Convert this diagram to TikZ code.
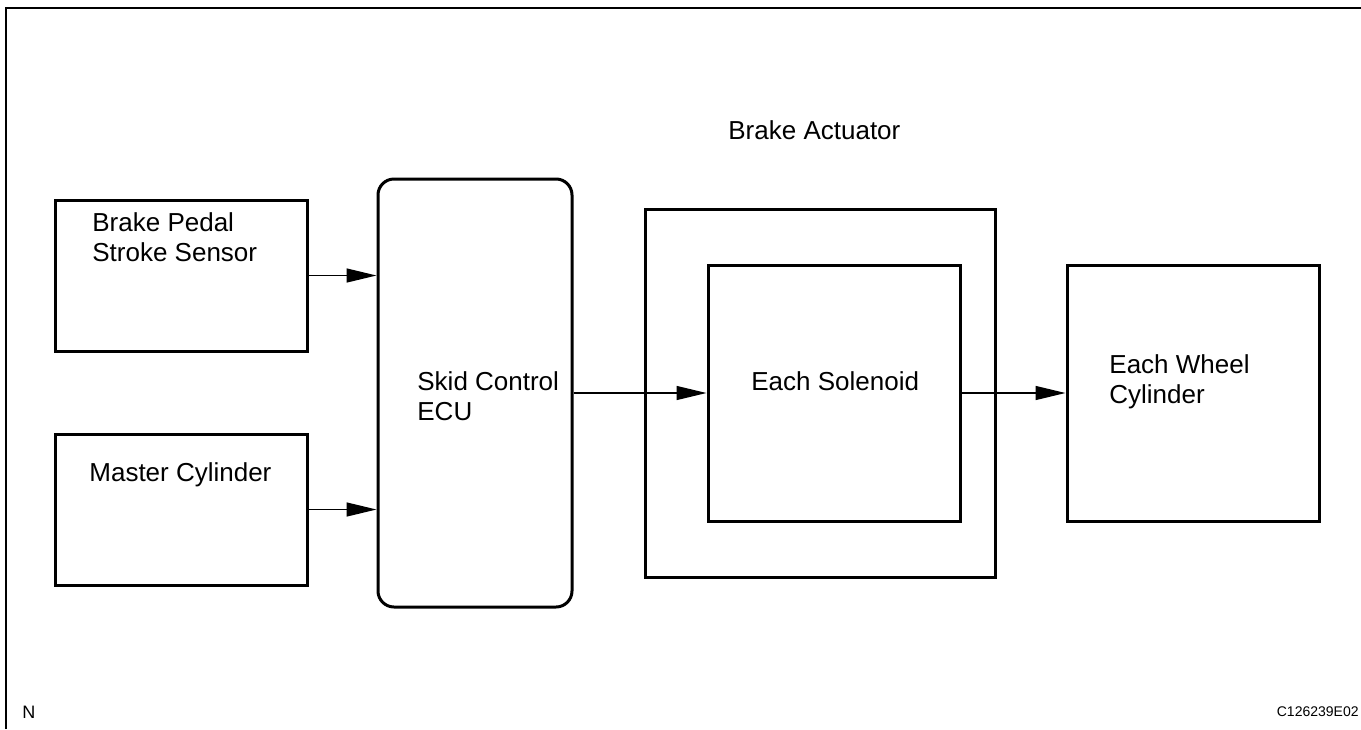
\documentclass[tikz,border=0pt]{standalone}
\usepackage{fontspec}
\setmainfont{Liberation Sans}
\usepackage{tikz}
\usetikzlibrary{arrows.meta,positioning,calc}

\begin{document}
\begin{tikzpicture}[x=0.5pt, y=-0.5pt,
  blk/.style={draw, line width=1.5pt, inner sep=0pt},
  arr/.style={-{Triangle[length=15pt, width=7pt]}, line width=0.7pt},
  lbl/.style={font=\fontsize{13pt}{15pt}\selectfont, align=left, inner sep=0pt, anchor=west},
]
  \useasboundingbox (0,0) rectangle (1361,729);
  % frame
  \draw[line width=1pt] (6,729) -- (6,8) -- (1361,8);

  \node[blk, minimum width=126pt, minimum height=75.5pt] (pedal)  at (181,275.5) {};
  \node[blk, minimum width=126pt, minimum height=75.5pt] (master) at (181,509.5) {};
  \node[blk, rounded corners=8pt, minimum width=97pt, minimum height=214pt] (ecu) at (475,393) {};
  \node[blk, minimum width=175pt, minimum height=184pt] (act) at (820,393) {};
  \node[blk, minimum width=126pt, minimum height=128pt] (sol) at (834,393) {};
  \node[blk, minimum width=126pt, minimum height=128pt] (wheel) at (1193,393) {};

  \node[lbl] (pedaltxt)  at (92,237)   {Brake Pedal\\Stroke Sensor};
  \node[lbl] (mastertxt) at (89,475)   {Master Cylinder};
  \node[lbl] (ecutxt)    at (417,396)  {Skid Control\\ECU};
  \node[lbl] (soltxt)    at (751,381)  {Each Solenoid};
  \node[lbl] (wheeltxt)  at (1109,382) {Each Wheel\\Cylinder};
  \node[lbl] (acttxt)    at (728,130)  {Brake Actuator};

  \draw[arr] (pedal.east)  -- (pedal.east -| ecu.west);
  \draw[arr] (master.east) -- (master.east -| ecu.west);
  \draw[arr] (ecu.east)    -- (sol.west);
  \draw[arr] (sol.east)    -- (wheel.west);

  \node[font=\fontsize{9pt}{10pt}\selectfont, anchor=west, inner sep=0pt] (fig) at (22,712) {N};
  \node[font=\fontsize{7pt}{8pt}\selectfont, anchor=east, inner sep=0pt] (code) at (1359,712) {C126239E02};
\end{tikzpicture}
\end{document}
